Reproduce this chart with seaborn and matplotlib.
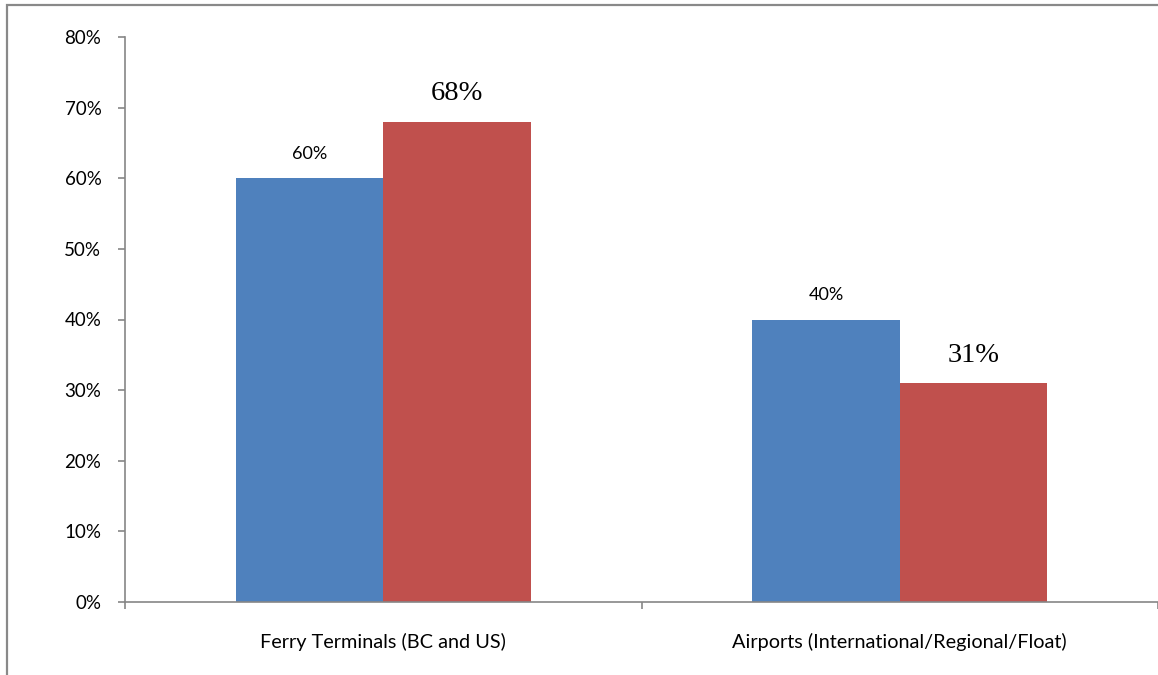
import matplotlib
matplotlib.use("Agg")
import matplotlib.pyplot as plt
import matplotlib.ticker as mticker
from matplotlib.patches import Rectangle
import pandas as pd
import seaborn as sns

# chart values (percent)
categories = ["Ferry Terminals (BC and US)", "Airports (International/Regional/Float)"]
series_names = ["Series 1", "Series 2"]
series_1 = [60, 40]
series_2 = [68, 31]
colors = ["#4F81BD", "#C0504D"]

df = pd.DataFrame({
    "category": categories * 2,
    "series": [series_names[0]] * 2 + [series_names[1]] * 2,
    "value": series_1 + series_2,
})

sns.set_style("white")
plt.rcParams["font.family"] = ["Lato", "DejaVu Sans"]
plt.rcParams["text.color"] = "black"
plt.rcParams["xtick.color"] = "black"
plt.rcParams["ytick.color"] = "black"

axis_grey = "#868686"

fig = plt.figure(figsize=(11.58, 6.75), dpi=100)
ax = fig.add_axes([125 / 1158, 1 - 602 / 675, 1 - 125 / 1158, (602 - 37) / 675])

sns.barplot(data=df, x="category", y="value", hue="series", palette=colors,
            width=0.572, gap=0, saturation=1, linewidth=0, ax=ax, legend=False,
            order=categories, hue_order=series_names)

# outer chart border (cropped at right/bottom)
fig.patches.append(Rectangle((7 / 1158, -0.1), 1.2, (675 - 5) / 675 + 0.1,
                             transform=fig.transFigure, fill=False,
                             edgecolor="#898989", linewidth=1.6))

ax.set_ylim(0, 80)
ax.set_xlim(-0.5, 1.5)
ax.yaxis.set_major_locator(mticker.MultipleLocator(10))
ax.yaxis.set_major_formatter(mticker.FuncFormatter(lambda v, p: f"{v:.0f}%"))
ax.set_xlabel("")
ax.set_ylabel("")

for side in ["top", "right"]:
    ax.spines[side].set_visible(False)
for side in ["left", "bottom"]:
    ax.spines[side].set_color(axis_grey)
    ax.spines[side].set_linewidth(1.2)

ax.tick_params(axis="y", direction="out", length=5, width=1.2, color=axis_grey,
               labelsize=13.5, pad=12, left=True, labelcolor="black")
ax.tick_params(axis="x", which="major", length=0, labelsize=14.3, pad=22,
               labelcolor="black")
ax.set_xticks([-0.5, 0.5, 1.5], minor=True)
ax.tick_params(axis="x", which="minor", direction="out", length=5, width=1.2,
               color=axis_grey, bottom=True)

# data labels: first series sans, second series serif
ax.bar_label(ax.containers[0], fmt="%d%%", padding=12, fontsize=13, color="black")
ax.bar_label(ax.containers[1], fmt="%d%%", padding=11, fontsize=20.5, color="black",
             family=["Liberation Serif", "DejaVu Serif"])

fig.savefig("out.png", dpi=100)
